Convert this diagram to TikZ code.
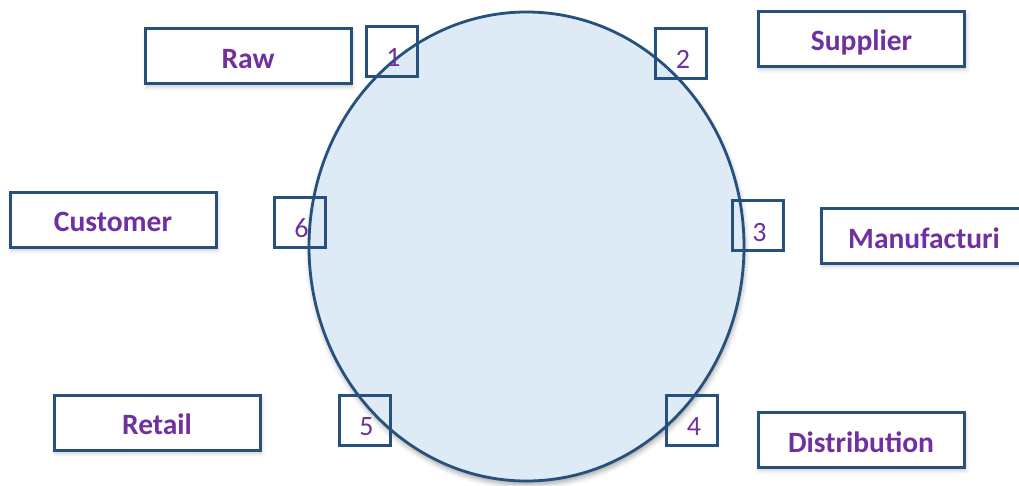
\documentclass[tikz,border=0pt]{standalone}
\usepackage{fontspec}
\setmainfont{Carlito}
\usetikzlibrary{shapes.geometric,shadows.blur}
\definecolor{edge}{RGB}{38,80,126}
\definecolor{fillc}{RGB}{222,234,246}
\definecolor{txt}{RGB}{112,48,160}
\tikzset{
  labelbox/.style={draw=edge, line width=3pt, fill=white, minimum width=206pt,
    minimum height=55pt, inner sep=0pt,
    blur shadow={shadow xshift=1.5pt, shadow yshift=-3pt, shadow blur radius=4pt, shadow opacity=22}},
  numbox/.style={draw=edge, line width=3pt, minimum width=51pt, minimum height=50pt, inner sep=0pt},
  labeltext/.style={font=\fontsize{29.5}{31}\selectfont\bfseries, text=txt, anchor=base, inner sep=0pt},
  numtext/.style={font=\fontsize{28}{30}\selectfont, text=txt, anchor=base, inner sep=0pt},
  ring/.style={ellipse, draw=edge, line width=2.8pt, fill=fillc, minimum width=435pt,
    minimum height=469pt, inner sep=0pt,
    blur shadow={shadow xshift=1pt, shadow yshift=-4pt, shadow blur radius=5pt, shadow opacity=35}}
}
\begin{document}
\begin{tikzpicture}[x=1pt, y=-1pt]
\useasboundingbox (0,0) rectangle (1019,486);
\clip (0,0) rectangle (1019,486);
% label boxes
\node[labelbox] (bRaw) at (248,56.5) {};
\node[labelbox] (bSup) at (861.5,39) {};
\node[labelbox] (bCus) at (113,220) {};
\node[labelbox] (bMan) at (924,236) {};
\node[labelbox] (bRet) at (157,422.5) {};
\node[labelbox] (bDis) at (861,440) {};
% label texts
\node[labeltext] (tRaw) at ([shift={(0,12)}]bRaw.center) {Raw};
\node[labeltext] (tSup) at ([shift={(0,12)}]bSup.center) {Supplier};
\node[labeltext] (tCus) at ([shift={(0,12)}]bCus.center) {Customer};
\node[labeltext] (tMan) at ([shift={(0,12)}]bMan.center) {Manufacturi};
\node[labeltext] (tRet) at ([shift={(0,12)}]bRet.center) {Retail};
\node[labeltext] (tDis) at ([shift={(0,12)}]bDis.center) {Distribution};
% the circle
\node[ring] (circ) at (526.5,246.5) {};
% numbered boxes
\node[numbox] (b1) at (391.5,51.5) {};
\node[numbox] (b2) at (681,54) {};
\node[numbox] (b3) at (757.5,226) {};
\node[numbox] (b4) at (692,420.5) {};
\node[numbox] (b5) at (364.5,420.5) {};
\node[numbox] (b6) at (299.5,223) {};
\node[numtext] (n1) at ([shift={(2,15)}]b1.center) {1};
\node[numtext] (n2) at ([shift={(2,15)}]b2.center) {2};
\node[numtext] (n3) at ([shift={(2,15)}]b3.center) {3};
\node[numtext] (n4) at ([shift={(2,15)}]b4.center) {4};
\node[numtext] (n5) at ([shift={(2,15)}]b5.center) {5};
\node[numtext] (n6) at ([shift={(2,15)}]b6.center) {6};
\end{tikzpicture}
\end{document}
